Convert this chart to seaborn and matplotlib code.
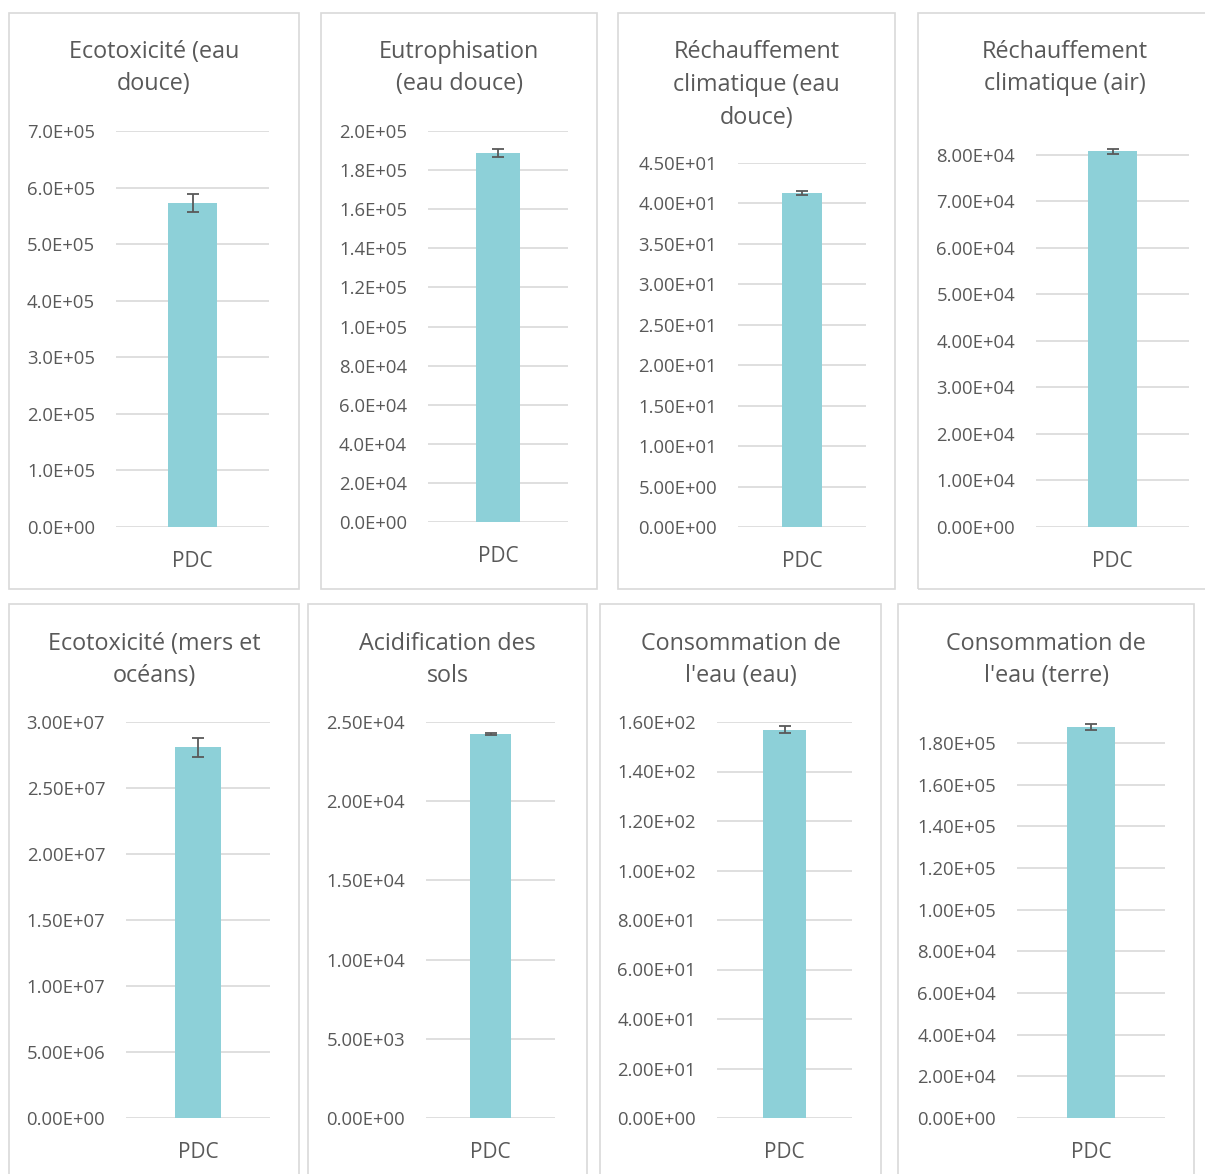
import numpy as np
import pandas as pd
import matplotlib
matplotlib.use("Agg")
import matplotlib.pyplot as plt
from matplotlib.patches import Rectangle
from matplotlib.ticker import FuncFormatter
import seaborn as sns

# data
titles = ["Ecotoxicité (eau\ndouce)", "Eutrophisation\n(eau douce)",
          "Réchauffement\nclimatique (eau\ndouce)", "Réchauffement\nclimatique (air)",
          "Ecotoxicité (mers et\nocéans)", "Acidification des\nsols",
          "Consommation de\nl'eau (eau)", "Consommation de\nl'eau (terre)"]
category = "PDC"
values = [5.73e5, 1.888e5, 41.3, 8.08e4, 2.81e7, 2.424e4, 156.8, 1.876e5]
errors = [1.6e4, 2.0e3, 0.25, 500, 7.2e5, 60, 1.4, 1.6e3]
tick_step = [1e5, 2e4, 5, 1e4, 5e6, 5e3, 20, 2e4]
tick_max = [7e5, 2e5, 45, 8e4, 3e7, 2.5e4, 160, 1.8e5]
y_top = [7e5, 2e5, 45, 8.3e4, 3e7, 2.5e4, 160, 1.9e5]
decimals = [1, 1, 2, 2, 2, 2, 2, 2]

df = pd.DataFrame({"impact": titles, "cat": category, "value": values, "err": errors})

W, H = 1205, 1174
# panel frames and plot areas in pixels (x0, y0, x1, y1)
boxes = [(9, 13, 299, 589), (321, 13, 597, 589), (618, 13, 895, 589), (918, 13, 1212, 589),
         (9, 604, 299, 1182), (308, 604, 587, 1182), (600, 604, 881, 1182), (898, 604, 1194, 1182)]
areas = [(116, 131, 269, 527), (428, 131, 568, 522), (738, 163, 866, 527), (1036, 141, 1189, 527),
         (126, 722, 270, 1118), (426, 722, 555, 1118), (717, 722, 852, 1118), (1017, 722, 1165, 1118)]
title_mid = [68, 68, 85, 68, 660, 660, 660, 660]

sns.set_style("white")
plt.rcParams["font.family"] = ["Open Sans", "DejaVu Sans"]
grey = "#595959"
bar_color = "#8dd0d8"

fig = plt.figure(figsize=(W / 100, H / 100), dpi=100)

for i, t in enumerate(titles):
    bx0, by0, bx1, by1 = boxes[i]
    fig.patches.append(Rectangle((bx0 / W, 1 - by1 / H), (bx1 - bx0) / W, (by1 - by0) / H,
                                 transform=fig.transFigure, fill=False,
                                 edgecolor="#d9d9d9", linewidth=1.2))
    fig.text((bx0 + bx1) / 2 / W, 1 - title_mid[i] / H, t, ha="center", va="center",
             multialignment="center", fontsize=16.8, color=grey, linespacing=1.5)

    x0, y0, x1, y1 = areas[i]
    ax = fig.add_axes([x0 / W, 1 - y1 / H, (x1 - x0) / W, (y1 - y0) / H])
    sub = df[df["impact"] == t]
    sns.barplot(data=sub, x="cat", y="value", ax=ax, color=bar_color,
                width=0.32, errorbar=None, saturation=1, linewidth=0)
    ax.errorbar(0, sub["value"].iloc[0], yerr=sub["err"].iloc[0], fmt="none",
                ecolor=grey, elinewidth=1.3, capsize=4.5, capthick=1.3, zorder=5)
    ax.set_xlim(-0.5, 0.5)
    d = decimals[i]
    ax.yaxis.set_major_formatter(FuncFormatter(lambda v, p, d=d: f"{v:.{d}E}"))
    ticks = np.arange(0, tick_max[i] + tick_step[i] / 2, tick_step[i])
    ax.set_yticks(ticks)
    ax.set_ylim(0, y_top[i])
    ax.grid(axis="y", color="#d9d9d9", linewidth=1.2)
    ax.set_axisbelow(True)
    sns.despine(ax=ax, left=True, bottom=True, top=True, right=True)
    ax.tick_params(axis="y", length=0, pad=15, labelsize=13.3, labelcolor=grey)
    ax.tick_params(axis="x", length=0, pad=17, labelsize=15, labelcolor=grey)
    ax.set_xlabel("")
    ax.set_ylabel("")

fig.savefig("out.png", dpi=100)
